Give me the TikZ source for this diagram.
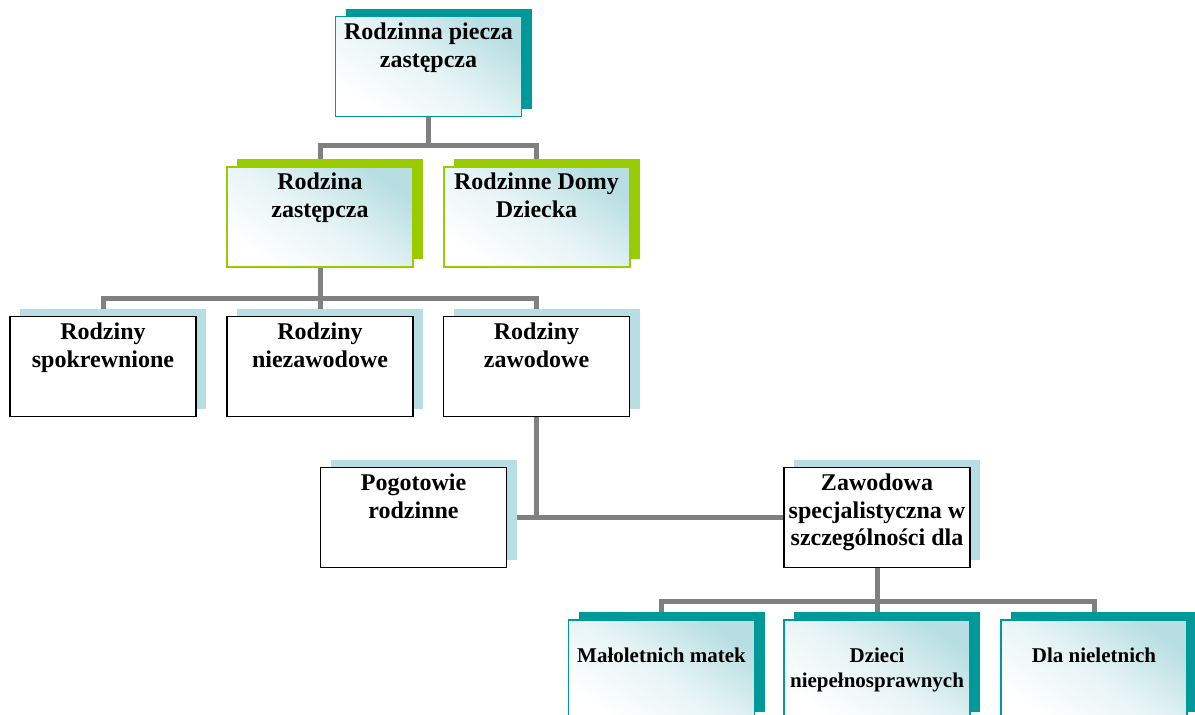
\documentclass[tikz,border=0pt]{standalone}
\usepackage{fontspec}
\setmainfont{Liberation Serif}
\usetikzlibrary{shadows, backgrounds}

\definecolor{morski}{RGB}{0,153,153}
\definecolor{limonka}{RGB}{153,204,0}
\definecolor{blekit}{RGB}{183,222,226}
\definecolor{lacznik}{RGB}{128,128,128}

\tikzset{
  pudelko/.style={rectangle, minimum width=186pt, minimum height=100pt, inner sep=0pt},
  gradient/.style={top color=blekit, bottom color=white, middle color=blekit!35,
    shading angle=-35},
  ramka morska/.style={pudelko, draw=morski, line width=1.5pt, gradient,
    general shadow={shadow xshift=10pt, shadow yshift=8pt, fill=morski}},
  ramka zielona/.style={pudelko, draw=limonka, line width=2pt, gradient,
    general shadow={shadow xshift=10pt, shadow yshift=8pt, fill=limonka}},
  ramka czarna/.style={pudelko, draw=black, line width=1.5pt, fill=white,
    general shadow={shadow xshift=10pt, shadow yshift=8pt, fill=blekit}},
  napis/.style={anchor=north, align=center, inner sep=0pt,
    font=\fontsize{24}{27.6}\selectfont\bfseries},
  napis maly/.style={napis, font=\fontsize{21}{25}\selectfont\bfseries},
  polaczenie/.style={draw=lacznik, line width=5pt}
}

\begin{document}
\begin{tikzpicture}[x=1pt, y=-1pt]
    \useasboundingbox (0,0) rectangle (1195,715);
    \clip (0,0) rectangle (1195,715);

    % Poziom 1
    \node[ramka morska] (pz) at (428.5,66.5) {};
    \node[napis] (pz-t) at ([yshift=-7pt]pz.north) {Rodzinna piecza\\zastępcza};

    % Poziom 2
    \node[ramka zielona] (rz) at (320,217) {};
    \node[napis] (rz-t) at ([yshift=-7pt]rz.north) {Rodzina\\zastępcza};
    \node[ramka zielona] (rdd) at (536.5,217) {};
    \node[napis] (rdd-t) at ([yshift=-7pt]rdd.north) {Rodzinne Domy\\Dziecka};

    % Poziom 3
    \node[ramka czarna] (rs) at (103,366.5) {};
    \node[napis] (rs-t) at ([yshift=-7pt]rs.north) {Rodziny\\spokrewnione};
    \node[ramka czarna] (rn) at (320,366.5) {};
    \node[napis] (rn-t) at ([yshift=-7pt]rn.north) {Rodziny\\niezawodowe};
    \node[ramka czarna] (rzaw) at (536.5,366.5) {};
    \node[napis] (rzaw-t) at ([yshift=-7pt]rzaw.north) {Rodziny\\zawodowe};

    % Poziom 4
    \node[ramka czarna] (pog) at (413.5,517.5) {};
    \node[napis] (pog-t) at ([yshift=-7pt]pog.north) {Pogotowie\\rodzinne};
    \node[ramka czarna] (zaw) at (877,517.5) {};
    \node[napis] (zaw-t) at ([yshift=-7pt]zaw.north) {Zawodowa\\specjalistyczna w\\szczególności dla};

    % Poziom 5
    \node[ramka morska] (mm) at (661.5,670) {};
    \node[napis maly] (mm-t) at ([yshift=-28pt]mm.north) {Małoletnich matek};
    \node[ramka morska] (dn) at (877,670) {};
    \node[napis maly] (dn-t) at ([yshift=-28pt]dn.north) {Dzieci\\niepełnosprawnych};
    \node[ramka morska] (dln) at (1094,670) {};
    \node[napis maly] (dln-t) at ([yshift=-28pt]dln.north) {Dla nieletnich};

    % Polaczenia
    \begin{scope}[on background layer]
        \draw[polaczenie] (pz.south) -- ++(0,28) coordinate (w1);
        \draw[polaczenie] (rz.north) |- (w1) -| (rdd.north);
        \draw[polaczenie] (rz.south) -- ++(0,30) coordinate (w2);
        \draw[polaczenie] (rs.north) |- (w2) -| (rzaw.north);
        \draw[polaczenie] (w2) -- (rn.north);
        \draw[polaczenie] (rzaw.south) -- (rzaw.south |- pog.east);
        \draw[polaczenie] (pog.east) -- (zaw.west);
        \draw[polaczenie] (zaw.south) -- ++(0,33) coordinate (w3);
        \draw[polaczenie] (mm.north) |- (w3) -| (dln.north);
        \draw[polaczenie] (w3) -- (dn.north);
    \end{scope}
\end{tikzpicture}
\end{document}
